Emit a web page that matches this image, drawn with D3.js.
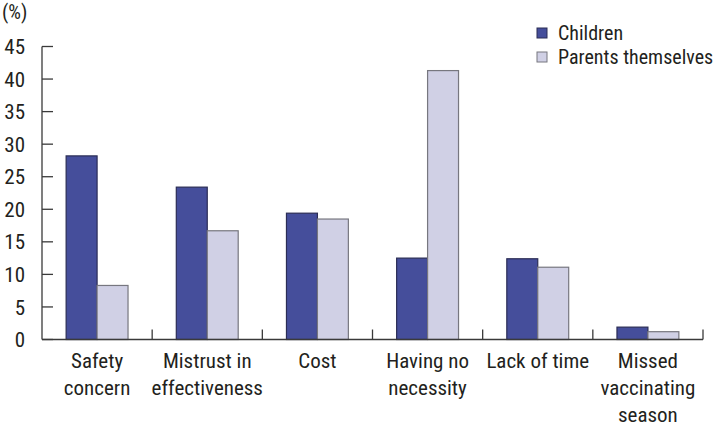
<!DOCTYPE html>
<html lang="en">
<head>
  <meta charset="UTF-8">
  <title>Reasons for not vaccinating</title>
  <style>
    body {
      margin: 0;
      background: #fff;
    }
    svg text {
      font-family: "Liberation Sans Narrow", "Roboto Condensed", "DejaVu Sans Condensed", sans-serif;
      fill: #231f20;
    }
  </style>
</head>
<body>
  <svg id="chart" width="726" height="427"></svg>

  <script src="https://d3js.org/d3.v7.min.js"></script>
  <script>
    // values
    const categories = [
      ["Safety", "concern"],
      ["Mistrust in", "effectiveness"],
      ["Cost"],
      ["Having no", "necessity"],
      ["Lack of time"],
      ["Missed", "vaccinating", "season"]
    ];
    const seriesNames = ["Children", "Parents themselves"];
    const children = [28.2, 23.4, 19.4, 12.5, 12.4, 1.9];
    const parents = [8.3, 16.7, 18.5, 41.3, 11.1, 1.2];
    const yTicks = [0, 5, 10, 15, 20, 25, 30, 35, 40, 45];

    const fills = ["#454e9b", "#d0d0e5"];
    const strokes = ["#2b2d55", "#77777f"];

    const svg = d3.select("#chart");
    const plotLeft = 42, plotRight = 703, plotTop = 46.5, plotBottom = 339.5;

    const x = d3.scaleBand()
      .domain(d3.range(categories.length))
      .range([plotLeft, plotRight]);

    const inner = d3.scaleBand()
      .domain(d3.range(seriesNames.length))
      .range([0, x.bandwidth()])
      .paddingOuter(0.78)
      .paddingInner(0);

    const y = d3.scaleLinear().domain([0, 45]).range([plotBottom, plotTop]);

    // y axis
    svg.append("line")
      .attr("x1", plotLeft).attr("x2", plotLeft)
      .attr("y1", plotTop).attr("y2", plotBottom)
      .attr("stroke", "#3a3a3a").attr("stroke-width", 1.3);

    svg.selectAll(".ytick").data(yTicks).join("line")
      .attr("x1", plotLeft).attr("x2", plotLeft + 11)
      .attr("y1", d => y(d)).attr("y2", d => y(d))
      .attr("stroke", "#3a3a3a").attr("stroke-width", 1.3);

    svg.selectAll(".ylabel").data(yTicks).join("text")
      .attr("x", 25)
      .attr("y", d => y(d))
      .attr("dy", "0.36em")
      .attr("text-anchor", "end")
      .attr("font-size", "21px")
      .text(d => d);

    svg.append("text")
      .attr("x", 2).attr("y", 19)
      .attr("font-size", "20px")
      .text("(%)");

    // bars
    const groups = svg.selectAll(".grp").data(categories.map((c, i) => i)).join("g")
      .attr("transform", i => `translate(${x(i)},0)`);

    groups.selectAll("rect")
      .data(i => [children[i], parents[i]])
      .join("rect")
      .attr("x", (d, j) => inner(j))
      .attr("y", d => y(d))
      .attr("width", inner.bandwidth())
      .attr("height", d => plotBottom - y(d))
      .attr("fill", (d, j) => fills[j])
      .attr("stroke", (d, j) => strokes[j])
      .attr("stroke-width", 1.2);

    // x axis
    svg.append("line")
      .attr("x1", plotLeft).attr("x2", plotRight)
      .attr("y1", plotBottom).attr("y2", plotBottom)
      .attr("stroke", "#3a3a3a").attr("stroke-width", 1.3);

    svg.selectAll(".xtick").data(d3.range(1, categories.length + 1)).join("line")
      .attr("x1", i => plotLeft + i * x.step()).attr("x2", i => plotLeft + i * x.step())
      .attr("y1", plotBottom).attr("y2", plotBottom - 10)
      .attr("stroke", "#3a3a3a").attr("stroke-width", 1.3);

    const labels = svg.selectAll(".xlabel").data(categories).join("text")
      .attr("text-anchor", "middle")
      .attr("font-size", "21px");

    labels.selectAll("tspan")
      .data((c, i) => c.map(line => ({ line, i })))
      .join("tspan")
      .attr("x", d => x(d.i) + x.bandwidth() / 2)
      .attr("y", (d, k) => 368 + k * 27)
      .text(d => d.line);

    // legend
    const legend = svg.selectAll(".leg").data(seriesNames).join("g")
      .attr("transform", (d, j) => `translate(537,${28 + j * 24})`);

    legend.append("rect")
      .attr("width", 10).attr("height", 10)
      .attr("fill", (d, j) => fills[j])
      .attr("stroke", (d, j) => strokes[j]);

    legend.append("text")
      .attr("x", 21).attr("y", 5)
      .attr("dy", "0.36em")
      .attr("font-size", "20px")
      .text(d => d);
  </script>
</body>
</html>
